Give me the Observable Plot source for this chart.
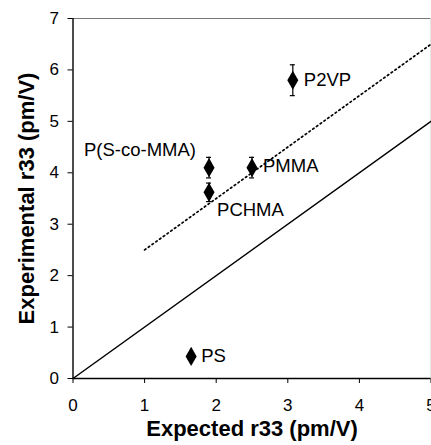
<!DOCTYPE html>
<html>
<head>
<meta charset="utf-8">
<script src="https://cdn.jsdelivr.net/npm/d3@7"></script>
<script src="https://cdn.jsdelivr.net/npm/@observablehq/plot@0.6"></script>
<style>
  html, body { margin: 0; padding: 0; background: #fff; }
  #chart svg { display: block; }
</style>
</head>
<body>
<div id="chart"></div>
<script>
// ---- data ----
const polymers   = ["PS", "P(S-co-MMA)", "PCHMA", "PMMA", "P2VP"];
const expected   = [1.65, 1.9, 1.9, 2.5, 3.07];
const experiment = [0.43, 4.1, 3.62, 4.1, 5.8];
const errors     = [0, 0.2, 0.18, 0.2, 0.3];

const idealX = [0, 5];
const idealY = [0, 5];
const trendX = [1, 5];
const trendY = [2.5, 6.5];

const xTicks = [0, 1, 2, 3, 4, 5];
const yTicks = [0, 1, 2, 3, 4, 5, 6, 7];
const xTitle = ["Expected r33 (pm/V)"];
const yTitle = ["Experimental r33 (pm/V)"];

// ---- build ----
const points = polymers.map((name, i) => ({
  name, x: expected[i], y: experiment[i], e: errors[i]
}));
const withErr = points.filter(d => d.e > 0);
const ideal = idealX.map((x, i) => ({x, y: idealY[i]}));
const trend = trendX.map((x, i) => ({x, y: trendY[i]}));

// label placement (styling only)
const place = {
  "PS":          {dx: 10, dy: 0, anchor: "start"},
  "P(S-co-MMA)": {dx: -13, dy: -18, anchor: "end"},
  "PCHMA":       {dx: 8, dy: 18, anchor: "start"},
  "PMMA":        {dx: 11, dy: -2, anchor: "start"},
  "P2VP":        {dx: 11, dy: 0, anchor: "start"}
};
const labelMarks = points.map(d => Plot.text([d], {
  x: "x", y: "y", text: "name",
  dx: place[d.name].dx, dy: place[d.name].dy,
  textAnchor: place[d.name].anchor,
  fontSize: 18.5, fill: "black"
}));

const capW = 0.035;
const font = "'Liberation Sans', Arial, Helvetica, sans-serif";

const chart = Plot.plot({
  width: 431,
  height: 445,
  marginLeft: 72.5,
  marginRight: 0.5,
  marginTop: 18,
  marginBottom: 67,
  style: {fontFamily: font, fontSize: "17px", color: "black", background: "white"},
  x: {domain: [0, 5]},
  y: {domain: [0, 7]},
  marks: [
    Plot.ruleY([7], {stroke: "#777", strokeWidth: 1.2}),
    Plot.ruleX([5], {stroke: "#ccc", strokeWidth: 1}),
    Plot.line(ideal, {x: "x", y: "y", stroke: "black", strokeWidth: 1.5}),
    Plot.line(trend, {x: "x", y: "y", stroke: "black", strokeWidth: 1.7, strokeDasharray: "1.6,3"}),
    Plot.ruleX(withErr, {x: "x", y1: d => d.y - d.e, y2: d => d.y + d.e, stroke: "black", strokeWidth: 1.2}),
    Plot.ruleY(withErr, {y: d => d.y - d.e, x1: d => d.x - capW, x2: d => d.x + capW, stroke: "black", strokeWidth: 1.2}),
    Plot.ruleY(withErr, {y: d => d.y + d.e, x1: d => d.x - capW, x2: d => d.x + capW, stroke: "black", strokeWidth: 1.2}),
    Plot.dot(points, {x: "x", y: "y", symbol: "diamond", r: 5.8, fill: "black", stroke: "none"}),
    ...labelMarks,
    Plot.axisX({ticks: xTicks, tickFormat: d3.format("d"), tickSize: 5, tickPadding: 15, label: null, fontSize: 17}),
    Plot.axisY({ticks: yTicks, tickFormat: d3.format("d"), tickSize: 5, tickPadding: 9, label: null, fontSize: 17}),
    Plot.ruleY([0], {stroke: "black", strokeWidth: 1.4}),
    Plot.ruleX([0], {stroke: "black", strokeWidth: 1.4}),
    Plot.text(xTitle, {frameAnchor: "bottom", dy: 57, textAnchor: "middle", fontSize: 22, fontWeight: "bold", fill: "black"}),
    Plot.text(yTitle, {frameAnchor: "left", dx: -46, rotate: -90, textAnchor: "middle", fontSize: 22, fontWeight: "bold", fill: "black"})
  ]
});
document.getElementById("chart").appendChild(chart);
</script>
</body>
</html>
